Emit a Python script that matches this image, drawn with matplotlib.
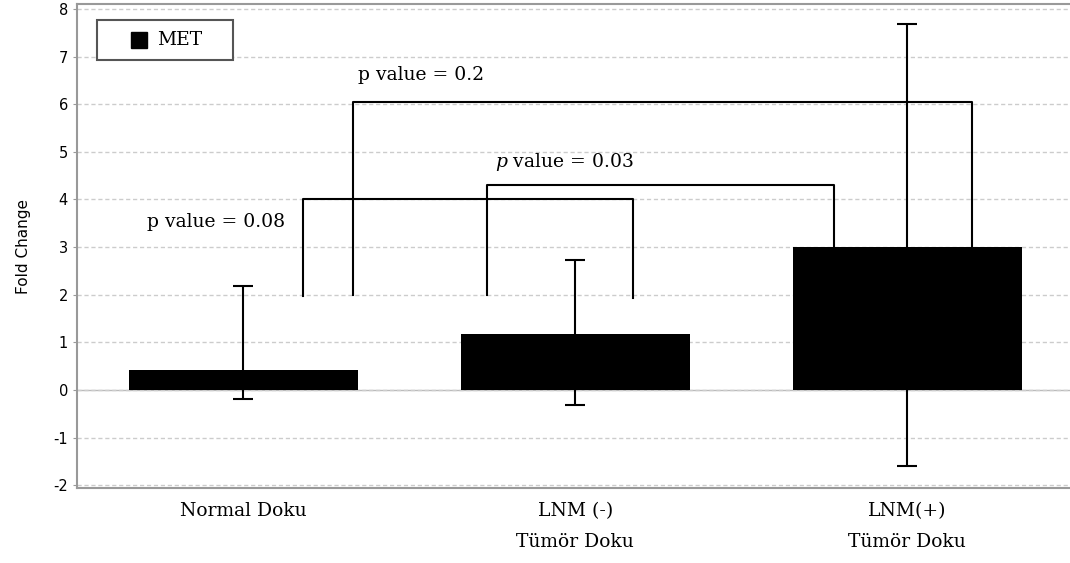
import matplotlib.pyplot as plt
from matplotlib.patches import Rectangle
import numpy as np

plt.rcParams["axes.unicode_minus"] = False
plt.rcParams["mathtext.fontset"] = "dejavuserif"

categories = ["Normal Doku", "LNM (-)\nTümör Doku", "LNM(+)\nTümör Doku"]
fold_change = [0.42, 1.18, 3.0]
err_low = [0.61, 1.50, 4.60]
err_high = [1.76, 1.55, 4.69]
series_name = "MET"

# brackets: (x_left, y_left, x_right, y_right, y_top, label, label_x, label_y)
brackets = [
    (0.18, 1.97, 1.175, 1.93, 4.0, "p value = 0.08", -0.08, 3.53),
    (0.735, 2.0, 1.78, 3.0, 4.3, r"$\mathit{p}$ value = 0.03", 0.967, 4.79),
    (0.331, 2.0, 2.196, 3.0, 6.05, "p value = 0.2", 0.536, 6.62),
]

serif = "DejaVu Serif"
fs = 13.5

fig = plt.figure(figsize=(10.7, 5.63), dpi=100)
ax = fig.add_axes([0.072, 0.133, 0.928, 0.86])

x = np.arange(len(categories))
ax.bar(x, fold_change, width=0.69, color="black", zorder=3)
ax.errorbar(x, fold_change, yerr=[err_low, err_high], fmt="none", ecolor="black",
            elinewidth=1.5, capsize=7.5, capthick=1.5, zorder=4)

for xl, yl, xr, yr, yt, lab, lx, ly in brackets:
    ax.plot([xl, xl, xr, xr], [yl, yt, yt, yr], color="black", lw=1.5, zorder=5)
    ax.text(lx, ly, lab, ha="center", va="center", family=serif, fontsize=fs)

ax.set_xlim(-0.5, 2.49)
ax.set_ylim(-2.063, 8.105)
ax.set_yticks(range(-2, 9))
ax.set_xticks(x)
ax.set_xticklabels(categories, family=serif, fontsize=fs, linespacing=1.9)
ax.tick_params(axis="x", length=0, pad=10)
ax.tick_params(axis="y", length=3, color="#999999", labelsize=10.5)
ax.set_ylabel("Fold Change", fontsize=11, labelpad=16)

ax.yaxis.grid(True, linestyle=(0, (3, 2)), color="#cccccc", lw=1, zorder=0)
ax.axhline(0, color="#bbbbbb", lw=1, zorder=1)
for s in ["left", "top", "bottom"]:
    ax.spines[s].set_color("#999999")
    ax.spines[s].set_linewidth(1.5)
ax.spines["right"].set_visible(False)

# legend box
ax.add_patch(Rectangle((0.0201, 0.884), 0.137, 0.083, transform=ax.transAxes,
                       facecolor="white", edgecolor="#555555", lw=1.5, zorder=6))
ax.plot([0.0619], [0.926], marker="s", color="black", markersize=11,
        transform=ax.transAxes, zorder=7)
ax.text(0.0806, 0.926, series_name, transform=ax.transAxes, ha="left", va="center",
        family=serif, fontsize=fs, zorder=7)

fig.savefig("out.png", dpi=100)
